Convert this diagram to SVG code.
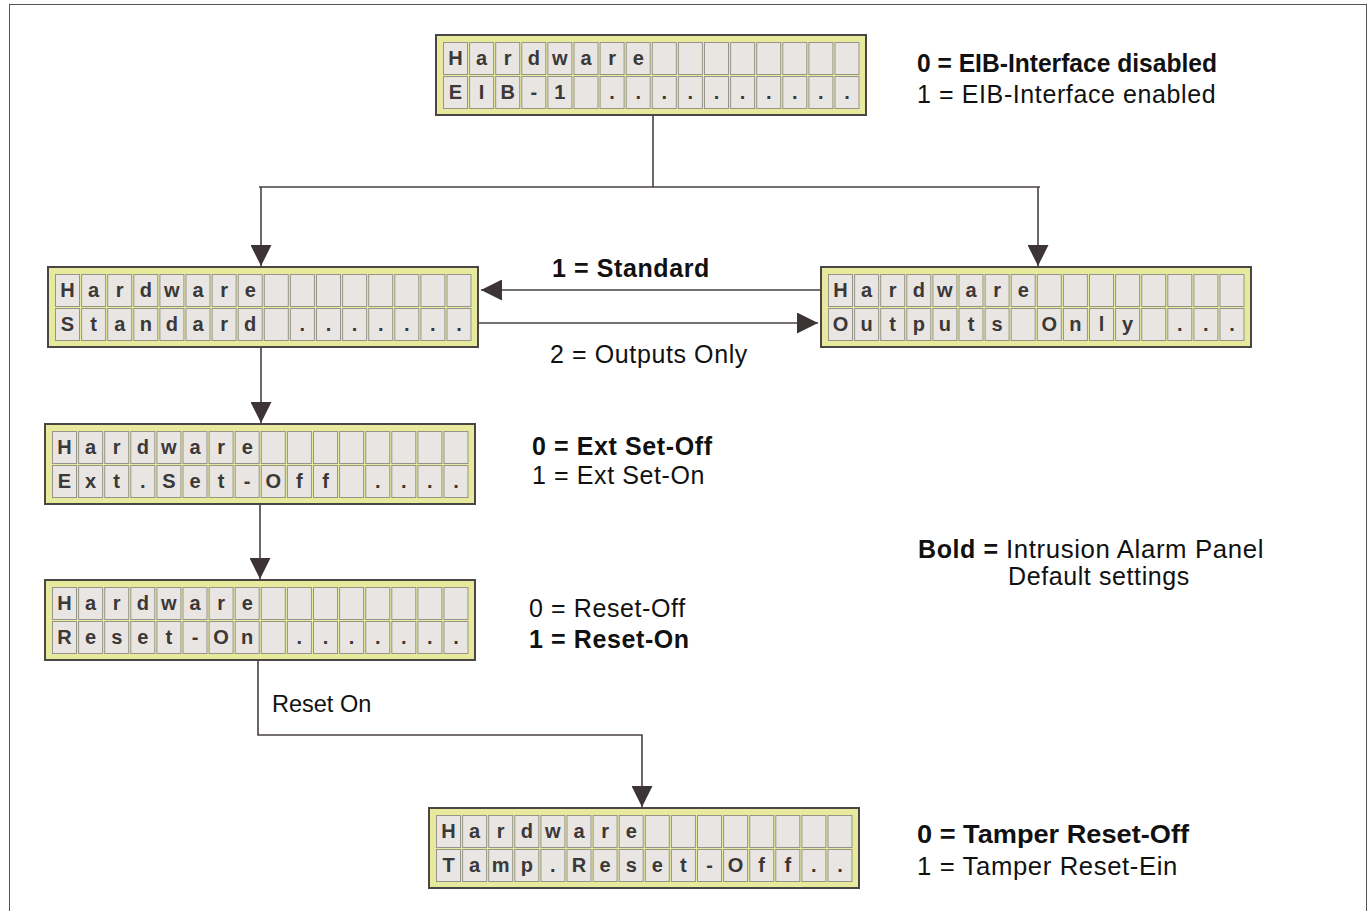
<svg xmlns="http://www.w3.org/2000/svg" xmlns:xlink="http://www.w3.org/1999/xlink" width="1369" height="911" viewBox="0 0 1369 911">
<style>
.frame{fill:none;stroke:#555;stroke-width:1}
.box{fill:#e7ea9c;stroke:#4a4646;stroke-width:2}
.cell{fill:#e9e5e3;stroke:#96958a;stroke-width:1}
.ch{font-family:"Liberation Sans",Arial,sans-serif;font-weight:bold;font-size:20px;fill:#3b3838;text-anchor:middle}
.conn{fill:none;stroke:#4a4242;stroke-width:1.6}
.lbl{font-family:"Liberation Sans",Arial,sans-serif;font-size:25px;fill:#111;letter-spacing:0.6px}
.b{font-weight:bold}
</style>
<defs>
<marker id="ah" markerUnits="userSpaceOnUse" markerWidth="21" markerHeight="21" refX="21" refY="10.5" orient="auto">
<path d="M0,0 L21,10.5 L0,21 z" fill="#3d3535"/>
</marker>
<g id="lcd">
<rect class="box" x="0" y="0" width="430" height="80"/>
<g class="cell">
<rect x="7.5" y="7.5" width="24" height="32"/><rect x="33.6" y="7.5" width="24" height="32"/><rect x="59.7" y="7.5" width="24" height="32"/><rect x="85.8" y="7.5" width="24" height="32"/><rect x="111.9" y="7.5" width="24" height="32"/><rect x="138" y="7.5" width="24" height="32"/><rect x="164.1" y="7.5" width="24" height="32"/><rect x="190.2" y="7.5" width="24" height="32"/><rect x="216.3" y="7.5" width="24" height="32"/><rect x="242.4" y="7.5" width="24" height="32"/><rect x="268.5" y="7.5" width="24" height="32"/><rect x="294.6" y="7.5" width="24" height="32"/><rect x="320.7" y="7.5" width="24" height="32"/><rect x="346.8" y="7.5" width="24" height="32"/><rect x="372.9" y="7.5" width="24" height="32"/><rect x="399" y="7.5" width="24" height="32"/>
<rect x="7.5" y="41.5" width="24" height="32"/><rect x="33.6" y="41.5" width="24" height="32"/><rect x="59.7" y="41.5" width="24" height="32"/><rect x="85.8" y="41.5" width="24" height="32"/><rect x="111.9" y="41.5" width="24" height="32"/><rect x="138" y="41.5" width="24" height="32"/><rect x="164.1" y="41.5" width="24" height="32"/><rect x="190.2" y="41.5" width="24" height="32"/><rect x="216.3" y="41.5" width="24" height="32"/><rect x="242.4" y="41.5" width="24" height="32"/><rect x="268.5" y="41.5" width="24" height="32"/><rect x="294.6" y="41.5" width="24" height="32"/><rect x="320.7" y="41.5" width="24" height="32"/><rect x="346.8" y="41.5" width="24" height="32"/><rect x="372.9" y="41.5" width="24" height="32"/><rect x="399" y="41.5" width="24" height="32"/>
</g>
<text class="ch" x="19.5 45.6 71.7 97.8 123.9 150 176.1 202.2" y="30">Hardware</text>
</g>
</defs>
<rect class="frame" x="9.5" y="4.5" width="1357" height="930"/>

<g id="connectors">
<path class="conn" d="M653,115 V187 M259,187 H1040"/>
<path class="conn" d="M261,187 V266" marker-end="url(#ah)"/>
<path class="conn" d="M1038,187 V266" marker-end="url(#ah)"/>
<path class="conn" d="M821,290 H481" marker-end="url(#ah)"/>
<path class="conn" d="M478,323 H818" marker-end="url(#ah)"/>
<path class="conn" d="M261,347 V423" marker-end="url(#ah)"/>
<path class="conn" d="M260,504 V579" marker-end="url(#ah)"/>
<path class="conn" d="M258,660 V735 H642 V807" marker-end="url(#ah)"/>
</g>

<g id="node-eib">
<g transform="translate(436,35)">
<use xlink:href="#lcd"/>
<text class="ch" x="19.5 45.6 71.7 97.8 123.9 176.1 202.2 228.3 254.4 280.5 306.6 332.7 358.8 384.9 411" y="64">EIB-1..........</text>
</g>
<text class="lbl b" x="917" y="72" textLength="300" lengthAdjust="spacingAndGlyphs" style="letter-spacing:0">0 = EIB-Interface disabled</text>
<text class="lbl" x="917" y="103">1 = EIB-Interface enabled</text>
</g>

<g id="node-standard">
<g transform="translate(48,267)">
<use xlink:href="#lcd"/>
<text class="ch" x="19.5 45.6 71.7 97.8 123.9 150 176.1 202.2 254.4 280.5 306.6 332.7 358.8 384.9 411" y="64">Standard.......</text>
</g>
</g>

<g id="node-outputs">
<g transform="translate(821,267)">
<use xlink:href="#lcd"/>
<text class="ch" x="19.5 45.6 71.7 97.8 123.9 150 176.1 228.3 254.4 280.5 306.6 358.8 384.9 411" y="64">OutputsOnly...</text>
</g>
</g>

<g id="edge-labels">
<text class="lbl b" x="552" y="277">1 = Standard</text>
<text class="lbl" x="550" y="363">2 = Outputs Only</text>
<text class="lbl" x="272" y="712" style="font-size:23.5px;letter-spacing:0">Reset On</text>
</g>

<g id="node-ext">
<g transform="translate(45,424)">
<use xlink:href="#lcd"/>
<text class="ch" x="19.5 45.6 71.7 97.8 123.9 150 176.1 202.2 228.3 254.4 280.5 332.7 358.8 384.9 411" y="64">Ext.Set-Off....</text>
</g>
<text class="lbl b" x="532" y="455">0 = Ext Set-Off</text>
<text class="lbl" x="532" y="484">1 = Ext Set-On</text>
</g>

<g id="legend">
<text class="lbl b" x="918" y="558">Bold =</text>
<text class="lbl" x="1006" y="558" textLength="258" lengthAdjust="spacingAndGlyphs">Intrusion Alarm Panel</text>
<text class="lbl" x="1008" y="585">Default settings</text>
</g>

<g id="node-reset">
<g transform="translate(45,580)">
<use xlink:href="#lcd"/>
<text class="ch" x="19.5 45.6 71.7 97.8 123.9 150 176.1 202.2 254.4 280.5 306.6 332.7 358.8 384.9 411" y="64">Reset-On.......</text>
</g>
<text class="lbl" x="529" y="617">0 = Reset-Off</text>
<text class="lbl b" x="529" y="648">1 = Reset-On</text>
</g>

<g id="node-tamper">
<g transform="translate(429,808)">
<use xlink:href="#lcd"/>
<text class="ch" x="19.5 45.6 71.7 97.8 123.9 150 176.1 202.2 228.3 254.4 280.5 306.6 332.7 358.8 384.9 411" y="64">Tamp.Reset-Off..</text>
</g>
<text class="lbl b" x="917" y="843" textLength="272" lengthAdjust="spacingAndGlyphs" style="letter-spacing:0">0 = Tamper Reset-Off</text>
<text class="lbl" x="917" y="875" textLength="261" lengthAdjust="spacingAndGlyphs">1 = Tamper Reset-Ein</text>
</g>
</svg>
